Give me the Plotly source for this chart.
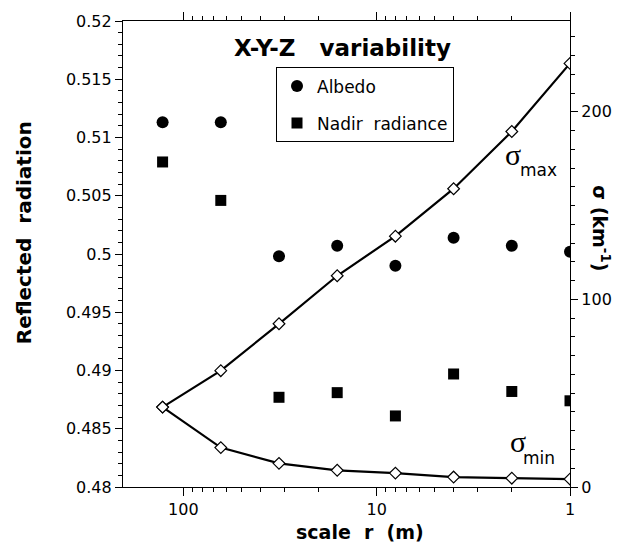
import plotly.graph_objects as go

# ---- data ----
scale_r = [128, 64, 32, 16, 8, 4, 2, 1]
albedo = [0.5113, 0.5113, 0.4998, 0.5007, 0.4990, 0.5014, 0.5007, 0.5002]
nadir = [0.5079, 0.5046, 0.4877, 0.4881, 0.4861, 0.4897, 0.4882, 0.4874]
sigma_max = [42.6, 62.0, 87.0, 112.6, 133.7, 159.0, 189.5, 225.8]
sigma_min = [42.6, 21.0, 12.6, 8.9, 7.4, 5.3, 4.7, 4.2]

x_ticks = [1, 10, 100]
x_ticktext = ["1", "10", "100"]
x_minor = [2, 3, 4, 5, 6, 7, 8, 9, 20, 30, 40, 50, 60, 70, 80, 90]
y_ticks = [0.48, 0.485, 0.49, 0.495, 0.5, 0.505, 0.51, 0.515, 0.52]
y_ticktext = ["0.48", "0.485", "0.49", "0.495", "0.5", "0.505", "0.51", "0.515", "0.52"]
y2_ticks = [0, 100, 200]

FONT = "DejaVu Sans"

# plot area in pixels
L, R, T, B = 123, 570, 15, 487
W, H = 628, 547


def px(xp):
    return (xp - L) / (R - L)


def py(yp):
    return (B - yp) / (B - T)


fig = go.Figure()

line_style = dict(color="black", width=2.2)
diamond = dict(symbol="diamond", size=9, color="white", line=dict(width=1.2, color="black"))

fig.add_trace(go.Scatter(x=scale_r, y=sigma_max, yaxis="y2", mode="lines+markers",
                         line=line_style, marker=diamond, showlegend=False))
fig.add_trace(go.Scatter(x=scale_r, y=sigma_min, yaxis="y2", mode="lines+markers",
                         line=line_style, marker=diamond, showlegend=False))
fig.add_trace(go.Scatter(x=scale_r, y=albedo, mode="markers", name="Albedo",
                         marker=dict(symbol="circle", size=12, color="black"),
                         legendgroup="a"))
fig.add_trace(go.Scatter(x=scale_r, y=nadir, mode="markers", name="Nadir&nbsp;&nbsp;radiance",
                         marker=dict(symbol="square", size=11, color="black"),
                         legendgroup="b"))

tickfont = dict(family=FONT, size=16, color="black")

fig.update_layout(
    width=W, height=H,
    margin=dict(l=L, r=W - R, t=T, b=H - B, pad=0),
    paper_bgcolor="white", plot_bgcolor="white",
    showlegend=True,
    legend=dict(x=px(276), y=py(62), xanchor="left", yanchor="top",
                bordercolor="black", borderwidth=1, bgcolor="white",
                font=dict(family=FONT, size=17, color="black"),
                traceorder="grouped", tracegroupgap=12),
    xaxis=dict(type="log", range=[2.312, 0], showgrid=False, zeroline=False,
               showline=True, linecolor="black", linewidth=1.2, mirror="ticks",
               ticks="outside", ticklen=8, tickwidth=1, tickcolor="black",
               tickmode="array", tickvals=x_ticks, ticktext=x_ticktext, tickfont=tickfont,
               minor=dict(tickmode="array", tickvals=x_minor, ticks="outside", ticklen=4,
                          tickwidth=1, tickcolor="black", showgrid=False)),
    yaxis=dict(range=[0.48, 0.52], showgrid=False, zeroline=False,
               showline=True, linecolor="black", linewidth=1.2,
               ticks="outside", ticklen=7, tickwidth=1, tickcolor="black",
               tickmode="array", tickvals=y_ticks, ticktext=y_ticktext, tickfont=tickfont,
               minor=dict(dtick=0.001, tick0=0.48, ticks="outside", ticklen=4,
                          tickwidth=1, tickcolor="black", showgrid=False)),
    yaxis2=dict(range=[0, 248.4], overlaying="y", side="right", showgrid=False,
                zeroline=False, showline=True, linecolor="black", linewidth=1.2,
                ticks="outside", ticklen=7, tickwidth=1, tickcolor="black",
                tickmode="array", tickvals=y2_ticks, tickfont=tickfont,
                minor=dict(dtick=10, tick0=0, ticks="outside", ticklen=4,
                           tickwidth=1, tickcolor="black", showgrid=False)),
)

ann = []
ann.append(dict(text="<b>X-Y-Z&nbsp;&nbsp;&nbsp;variability</b>", x=px(342), y=py(42),
                font=dict(family=FONT, size=23, color="black")))
ann.append(dict(text="<b>Reflected&nbsp;&nbsp;radiation</b>", x=px(24), y=py(230), textangle=-90,
                font=dict(family=FONT, size=20, color="black")))
ann.append(dict(text="<b>scale&nbsp;&nbsp;r&nbsp;&nbsp;(m)</b>", x=px(360), y=py(533),
                font=dict(family=FONT, size=19, color="black")))
ann.append(dict(text="<b>σ (km<sup>-1</sup>)</b>", x=px(601), y=py(225), textangle=90,
                font=dict(family=FONT, size=19, color="black")))
ann.append(dict(text="σ", x=px(513), y=py(150),
                font=dict(family="Liberation Serif", size=30, color="black")))
ann.append(dict(text="max", x=px(538), y=py(166),
                font=dict(family=FONT, size=17, color="black")))
ann.append(dict(text="σ", x=px(518), y=py(441),
                font=dict(family="Liberation Serif", size=30, color="black")))
ann.append(dict(text="min", x=px(539), y=py(458),
                font=dict(family=FONT, size=17, color="black")))
for a in ann:
    a.update(xref="paper", yref="paper", showarrow=False, xanchor="center", yanchor="middle")
fig.update_layout(annotations=ann)

fig.write_html("out.html")
